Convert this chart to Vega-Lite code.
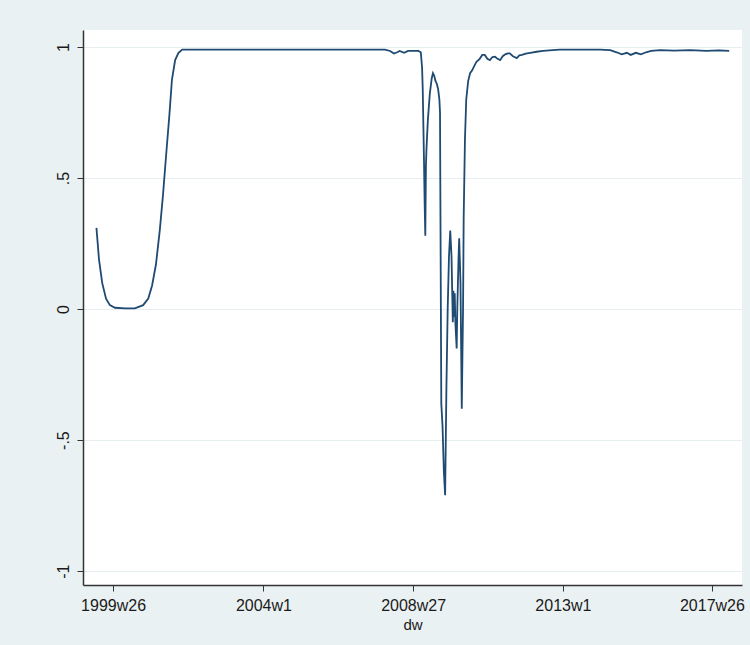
{
  "$schema": "https://vega.github.io/schema/vega-lite/v6.json",
  "width": 659,
  "height": 555,
  "autosize": "none",
  "padding": {"left": 83, "top": 30, "right": 8, "bottom": 60},
  "background": "#eaf1f3",
  "view": {"fill": "white", "stroke": null},
  "config": {"font": "Liberation Sans"},
  "data": {"values": [
    {"w": 2027, "v": 0.31}, {"w": 2031, "v": 0.19}, {"w": 2036, "v": 0.10}, {"w": 2042, "v": 0.04},
    {"w": 2048, "v": 0.015}, {"w": 2056, "v": 0.005}, {"w": 2072, "v": 0.003}, {"w": 2087, "v": 0.003},
    {"w": 2100, "v": 0.015}, {"w": 2108, "v": 0.04}, {"w": 2114, "v": 0.09}, {"w": 2120, "v": 0.17},
    {"w": 2126, "v": 0.30}, {"w": 2131, "v": 0.435}, {"w": 2136, "v": 0.59}, {"w": 2141, "v": 0.74},
    {"w": 2145, "v": 0.875}, {"w": 2150, "v": 0.95}, {"w": 2155, "v": 0.977}, {"w": 2161, "v": 0.99},
    {"w": 2189, "v": 0.99}, {"w": 2267, "v": 0.99}, {"w": 2345, "v": 0.99}, {"w": 2423, "v": 0.99},
    {"w": 2478, "v": 0.99}, {"w": 2486, "v": 0.985}, {"w": 2492, "v": 0.975}, {"w": 2497, "v": 0.98},
    {"w": 2501, "v": 0.985}, {"w": 2508, "v": 0.978}, {"w": 2514, "v": 0.985}, {"w": 2522, "v": 0.985},
    {"w": 2530, "v": 0.985}, {"w": 2534, "v": 0.98}, {"w": 2536, "v": 0.92}, {"w": 2537, "v": 0.84},
    {"w": 2538, "v": 0.70}, {"w": 2539, "v": 0.56}, {"w": 2540, "v": 0.40}, {"w": 2541, "v": 0.28},
    {"w": 2542, "v": 0.55}, {"w": 2543, "v": 0.62}, {"w": 2545, "v": 0.72}, {"w": 2548, "v": 0.82},
    {"w": 2551, "v": 0.88}, {"w": 2553, "v": 0.90}, {"w": 2555, "v": 0.89}, {"w": 2557, "v": 0.87},
    {"w": 2559, "v": 0.86}, {"w": 2561, "v": 0.84}, {"w": 2563, "v": 0.80}, {"w": 2564, "v": 0.75},
    {"w": 2566, "v": -0.36}, {"w": 2568, "v": -0.45}, {"w": 2570, "v": -0.62}, {"w": 2572, "v": -0.71},
    {"w": 2574, "v": -0.3}, {"w": 2576, "v": 0.0}, {"w": 2578, "v": 0.2}, {"w": 2580, "v": 0.30},
    {"w": 2582, "v": 0.20}, {"w": 2584, "v": -0.05}, {"w": 2585, "v": 0.07}, {"w": 2586, "v": -0.03},
    {"w": 2587, "v": 0.06}, {"w": 2588, "v": -0.05}, {"w": 2590, "v": -0.15}, {"w": 2591, "v": 0.0},
    {"w": 2593, "v": 0.20}, {"w": 2594, "v": 0.27}, {"w": 2596, "v": 0.10}, {"w": 2598, "v": -0.38},
    {"w": 2600, "v": 0.0}, {"w": 2601, "v": 0.35}, {"w": 2603, "v": 0.65}, {"w": 2605, "v": 0.80},
    {"w": 2608, "v": 0.87}, {"w": 2611, "v": 0.90}, {"w": 2614, "v": 0.91}, {"w": 2618, "v": 0.93},
    {"w": 2621, "v": 0.944}, {"w": 2626, "v": 0.955}, {"w": 2630, "v": 0.97}, {"w": 2634, "v": 0.97},
    {"w": 2638, "v": 0.955}, {"w": 2642, "v": 0.95}, {"w": 2646, "v": 0.962}, {"w": 2650, "v": 0.963},
    {"w": 2654, "v": 0.955}, {"w": 2658, "v": 0.95}, {"w": 2662, "v": 0.965}, {"w": 2666, "v": 0.972},
    {"w": 2670, "v": 0.976}, {"w": 2673, "v": 0.976}, {"w": 2678, "v": 0.965}, {"w": 2684, "v": 0.958},
    {"w": 2688, "v": 0.968}, {"w": 2692, "v": 0.97}, {"w": 2698, "v": 0.975}, {"w": 2705, "v": 0.978},
    {"w": 2715, "v": 0.982}, {"w": 2725, "v": 0.985}, {"w": 2740, "v": 0.988}, {"w": 2751, "v": 0.99},
    {"w": 2780, "v": 0.99}, {"w": 2814, "v": 0.99}, {"w": 2830, "v": 0.988}, {"w": 2840, "v": 0.98},
    {"w": 2848, "v": 0.972}, {"w": 2856, "v": 0.978}, {"w": 2862, "v": 0.97}, {"w": 2870, "v": 0.978},
    {"w": 2878, "v": 0.972}, {"w": 2886, "v": 0.98}, {"w": 2894, "v": 0.985}, {"w": 2908, "v": 0.988},
    {"w": 2930, "v": 0.986}, {"w": 2955, "v": 0.988}, {"w": 2980, "v": 0.985}, {"w": 3000, "v": 0.987},
    {"w": 3016, "v": 0.985}
  ]},
  "mark": {"type": "line", "color": "#1f4a72", "strokeWidth": 1.8},
  "encoding": {
    "x": {
      "field": "w", "type": "quantitative",
      "scale": {"domain": [2006, 3036], "nice": false, "zero": false},
      "axis": {
        "values": [2053, 2288, 2522, 2756, 2989],
        "labelExpr": "(floor(datum.value/52)+1960) + 'w' + (datum.value % 52 + 1)",
        "title": "dw", "titleFontSize": 15, "titleFontWeight": "normal", "titleColor": "#1a1a1a",
        "titlePadding": 4,
        "labelFontSize": 16, "labelColor": "#1a1a1a", "labelPadding": 6,
        "tickSize": 6, "tickColor": "#333", "domainColor": "#333", "domainWidth": 1.5,
        "grid": false
      }
    },
    "y": {
      "field": "v", "type": "quantitative",
      "scale": {"domain": [-1.053, 1.065], "nice": false, "zero": false},
      "axis": {
        "values": [-1, -0.5, 0, 0.5, 1],
        "labelExpr": "datum.value == 1 ? '1' : datum.value == 0.5 ? '.5' : datum.value == 0 ? '0' : datum.value == -0.5 ? '-.5' : '-1'",
        "labelAngle": 270, "labelAlign": "center", "labelBaseline": "bottom",
        "labelFontSize": 16, "labelColor": "#1a1a1a", "labelPadding": 6,
        "tickSize": 6, "tickColor": "#333", "domainColor": "#333", "domainWidth": 1.5,
        "title": null,
        "grid": true, "gridColor": "#e6eef0", "gridWidth": 1.2
      }
    }
  }
}
